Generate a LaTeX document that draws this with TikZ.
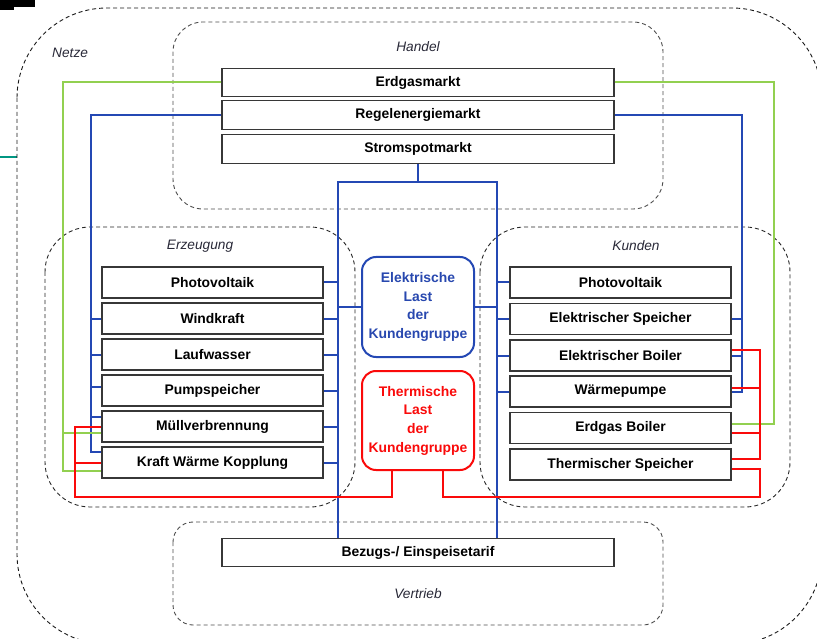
\documentclass[tikz,border=0pt]{standalone}
\usepackage{fontspec}
\setmainfont{Liberation Sans}
\usetikzlibrary{calc}

\definecolor{elblue}{RGB}{36,72,180}
\definecolor{eltext}{RGB}{40,72,175}
\definecolor{thred}{RGB}{250,10,10}
\definecolor{gasgreen}{RGB}{146,208,80}
\definecolor{boxgray}{RGB}{55,55,55}
\definecolor{labelgray}{RGB}{40,40,55}
\definecolor{edgeteal}{RGB}{0,150,130}

\begin{document}
\begin{tikzpicture}[x=1pt,y=-1pt,
  unit/.style={draw=boxgray, line width=1.2pt, fill=white, minimum width=221pt,
    minimum height=31pt, inner sep=0pt, font=\fontsize{13.9}{16}\selectfont\bfseries},
  market/.style={unit, minimum width=392pt, minimum height=28.5pt},
  grp/.style={dash pattern=on 4pt off 3pt, line width=0.9pt, draw=black!70},
  grplabel/.style={font=\fontsize{13.7}{16}\selectfont\itshape, text=labelgray, inner sep=0pt},
  loadbox/.style={rounded corners=14pt, line width=2pt, fill=white, minimum width=112pt,
    minimum height=100pt, align=center, inner sep=0pt,
    font=\fontsize{13.9}{18.7}\selectfont\bfseries},
  wire/.style={line width=2pt},
  elw/.style={wire, draw=elblue},
  thw/.style={wire, draw=thred},
  gasw/.style={wire, draw=gasgreen}]

\useasboundingbox (0,0) rectangle (817,639);
\clip (0,0) rectangle (817,639);

% edge marks at the upper left
\fill[black] (0,0) rectangle (35,7);
\fill[black] (0,0) rectangle (14,10);
\draw[edgeteal, line width=2pt] (0,156.7) -- (17,156.7);

% areas
\draw[grp, draw=black!90, rounded corners=90pt] (17,8) rectangle (822,644);
\draw[grp, rounded corners=30pt] (173,22) rectangle (663,209);
\draw[grp, draw=black!85, rounded corners=45pt] (45,227) rectangle (355,507);
\draw[grp, draw=black!85, rounded corners=45pt] (480,227) rectangle (790,507);
\draw[grp, rounded corners=20pt] (173,522) rectangle (663,625);

\node[grplabel, anchor=west] (lnetze) at (52,53) {Netze};
\node[grplabel] (lhandel) at (418,47) {Handel};
\node[grplabel] (lerz) at (200,246) {Erzeugung};
\node[grplabel] (lkunden) at (636,246) {Kunden};
\node[grplabel] (lvertrieb) at (418,594) {Vertrieb};

% markets
\node[market] (erdgas) at (418,82.5) {Erdgasmarkt};
\node[market] (regel) at (418,115) {Regelenergiemarkt};
\node[market] (spot) at (418,149) {Stromspotmarkt};
\node[market] (bez) at (418,552.5) {Bezugs-/ Einspeisetarif};

% generation
\node[unit] (e1) at (212.5,282.5) {Photovoltaik};
\node[unit] (e2) at (212.5,318.5) {Windkraft};
\node[unit] (e3) at (212.5,354.5) {Laufwasser};
\node[unit] (e4) at (212.5,390.5) {Pumpspeicher};
\node[unit] (e5) at (212.5,426.5) {Müllverbrennung};
\node[unit] (e6) at (212.5,462.5) {Kraft Wärme Kopplung};

% customers
\node[unit] (k1) at (620.5,282.5) {Photovoltaik};
\node[unit] (k2) at (620.5,319) {Elektrischer Speicher};
\node[unit] (k3) at (620.5,355.5) {Elektrischer Boiler};
\node[unit] (k4) at (620.5,391.5) {Wärmepumpe};
\node[unit] (k5) at (620.5,428) {Erdgas Boiler};
\node[unit] (k6) at (620.5,464.5) {Thermischer Speicher};

% loads
\node[loadbox, draw=elblue, text=eltext] (el) at (418,307)
  {Elektrische\\Last\\der\\Kundengruppe};
\node[loadbox, draw=thred, text=thred, minimum height=99pt] (th) at (418,420.5)
  {Thermische\\Last\\der\\Kundengruppe};

% bus corners
\coordinate (sj) at (418,182);
\coordinate (tl) at (338,182);
\coordinate (tr) at (497,182);
\coordinate (rl) at (91,115);
\coordinate (rr) at (742,115);
\coordinate (gl) at (63,82.5);
\coordinate (gr) at (774,82.5);
\coordinate (redl) at (75,497);
\coordinate (redr) at (760,497);

% electricity: spot market and tariff bus
\draw[elw] (spot.south) -- (sj);
\draw[elw] (tl |- bez.north) -- (tl) -- (tr) -- (tr |- bez.north);
\foreach \n in {e1,e2,e3,e4,e5,e6}
  \draw[elw] (\n.east) -- (\n.east -| tl);
\foreach \n in {k1,k2,k3,k4}
  \draw[elw] (\n.west) -- (\n.west -| tr);
\draw[elw] (el.west) -- (el.west -| tl);
\draw[elw] (el.east) -- (el.east -| tr);

% electricity: balancing market
\coordinate (e4b) at ([yshift=3.5pt]e4.west);
\coordinate (e5b) at ([yshift=9.5pt]e5.west);
\coordinate (e6b) at ([yshift=10.5pt]e6.west);
\draw[elw] (regel.west) -- (rl) -- (rl |- e6b) -- (e6b);
\draw[elw] (e2.west) -- (e2.west -| rl);
\draw[elw] (e3.west) -- (e3.west -| rl);
\draw[elw] (e4b) -- (e4b -| rl);
\draw[elw] (e5b) -- (e5b -| rl);
\coordinate (k4b) at ([yshift=-0.5pt]k4.east);
\draw[elw] (regel.east) -- (rr) -- (rr |- k4b) -- (k4b);
\draw[elw] (k2.east) -- (k2.east -| rr);
\draw[elw] (k3.east) -- (k3.east -| rr);

% gas
\coordinate (e5g) at ([yshift=-6.5pt]e5.west);
\coordinate (e6g) at ([yshift=-8.5pt]e6.west);
\draw[gasw] (erdgas.west) -- (gl) -- (gl |- e6g) -- (e6g);
\draw[gasw] (e5g) -- (e5g -| gl);
\coordinate (k5g) at ([yshift=4pt]k5.east);
\draw[gasw] (erdgas.east) -- (gr) -- (gr |- k5g) -- (k5g);

% heat
\draw[thw] ([xshift=-26pt]th.south) -- ([xshift=-26pt]th.south |- redl) -- (redl)
  -- (redl |- e5.west) -- (e5.west);
\draw[thw] (e6.west) -- (e6.west -| redl);
\coordinate (k3r) at ([yshift=5.5pt]k3.east);
\coordinate (k4r) at ([yshift=3.5pt]k4.east);
\coordinate (k5r) at ([yshift=-5pt]k5.east);
\coordinate (k6r) at ([yshift=5.5pt]k6.east);
\coordinate (k6s) at ([yshift=-4.5pt]k6.east);
\draw[thw] (k3r) -- (k3r -| redr) -- (k6r -| redr) -- (k6r);
\draw[thw] (k4r) -- (k4r -| redr);
\draw[thw] (k5r) -- (k5r -| redr);
\draw[thw] ([xshift=25pt]th.south) -- ([xshift=25pt]th.south |- redr) -- (redr)
  -- (redr |- k6s) -- (k6s);

\end{tikzpicture}
\end{document}
